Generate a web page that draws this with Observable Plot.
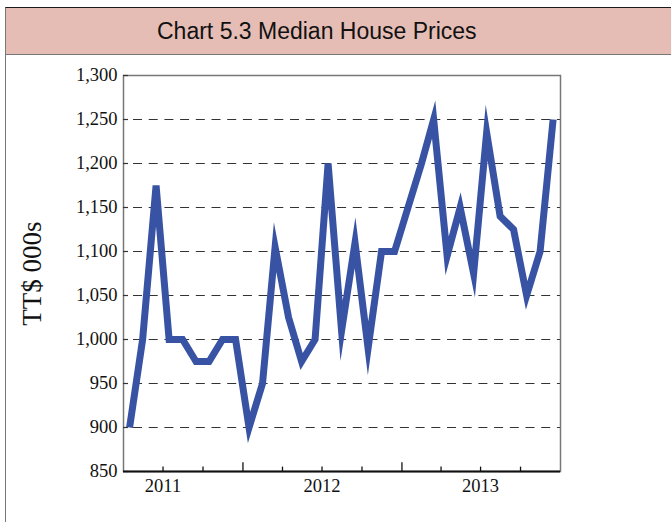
<!DOCTYPE html>
<html>
<head>
<meta charset="utf-8">
<script src="https://cdn.jsdelivr.net/npm/d3@7"></script>
<script src="https://cdn.jsdelivr.net/npm/@observablehq/plot@0.6"></script>
<style>
  html, body { margin: 0; padding: 0; background: #fff; overflow: hidden; }
  body { width: 671px; height: 522px; position: relative; }
  #frame { position: absolute; left: 5px; top: 7px; width: 700px; height: 600px;
           border-left: 1px solid #777; border-top: 1.5px solid #1a1a1a; box-sizing: border-box; }
  #title { position: absolute; left: 6px; top: 8px; width: 700px; height: 47px;
           background: #e5bdb5; border-bottom: 1.3px solid #777; box-sizing: border-box;
           font-family: "Liberation Sans", Arial, sans-serif; font-size: 23px; color: #111; }
  #title span { position: absolute; left: 151px; top: 10px; white-space: nowrap; }
  #chart { position: absolute; left: 0; top: 56px; }
</style>
</head>
<body>
<div id="frame"></div>
<div id="title"><span>Chart 5.3 Median House Prices</span></div>
<div id="chart"></div>
<script>
// Monthly median house prices, TT$ 000s, April 2011 – December 2013
const startYear = 2011;
const startMonth = 4; // April
const prices = [
  900, 1000, 1175, 1000, 1000, 975, 975, 1000, 1000,          // Apr–Dec 2011
  900, 950, 1105, 1025, 975, 1000, 1200, 1010, 1110, 990, 1100, 1100, // 2012
  1150, 1200, 1250, 1095, 1150, 1075, 1235, 1140, 1125, 1050, 1100, 1250 // 2013
];
const yTicks = [850, 900, 950, 1000, 1050, 1100, 1150, 1200, 1250, 1300];
const yearLabels = [2011, 2012, 2013];
const yLabel = "TT$ 000s";

const data = prices.map((v, i) => ({
  date: new Date(Date.UTC(startYear, startMonth - 1 + i, 15)),
  value: v
}));
const quarterTicks = [];
for (let y = 2011; y <= 2013; y++) for (const m of [0, 3, 6, 9]) {
  const d = new Date(Date.UTC(y, m, 1));
  if (d > new Date(Date.UTC(2011, 3, 1))) quarterTicks.push({date: d, major: m === 0});
}
const yearTicks = yearLabels.map(y => new Date(Date.UTC(y, 6, 1)));

const serif = "Liberation Serif, Times New Roman, serif";

const chart = Plot.plot({
  width: 671,
  height: 465,
  marginLeft: 123,
  marginRight: 111,
  marginTop: 19,
  marginBottom: 50,
  style: {fontFamily: serif, background: "transparent", color: "#111"},
  x: {type: "utc", domain: [new Date(Date.UTC(2011, 3, 1)), new Date(Date.UTC(2014, 0, 1))]},
  y: {domain: [850, 1300]},
  marks: [
    Plot.gridY(yTicks, {stroke: "#333", strokeOpacity: 1, strokeWidth: 1.2, strokeDasharray: "9,6.7", strokeDashoffset: 5.7}),
    Plot.frame({stroke: "#777", strokeWidth: 1.5}),
    Plot.ruleY(yTicks, {stroke: "#333", strokeWidth: 1.2, insetRight: 432}),
    Plot.ruleY([850], {stroke: "#111", strokeWidth: 2}),
    Plot.ruleX(quarterTicks, {x: "date", y1: 850, y2: d => d.major ? 859.9 : 855, stroke: "#111", strokeWidth: 1.3}),
    Plot.line(data, {x: "date", y: "value", stroke: "#3953a4", strokeWidth: 7,
      strokeLinejoin: "miter", strokeMiterlimit: 10, strokeLinecap: "butt"}),
    Plot.axisY(yTicks, {tickSize: 0, tickPadding: 6, tickFormat: d3.format(","), fontSize: 18.5, fontFamily: serif, label: null}),
    Plot.axisX(yearTicks, {tickSize: 0, tickPadding: 7, tickFormat: d => String(d.getUTCFullYear()), fontSize: 18.5, fontFamily: serif, label: null}),
    Plot.text([yLabel], {text: d => d, frameAnchor: "left", textAnchor: "middle", lineAnchor: "middle", dx: -91, rotate: -90, fontSize: 27, fontFamily: serif, fill: "#111"})
  ]
});
document.getElementById("chart").appendChild(chart);
</script>
</body>
</html>
